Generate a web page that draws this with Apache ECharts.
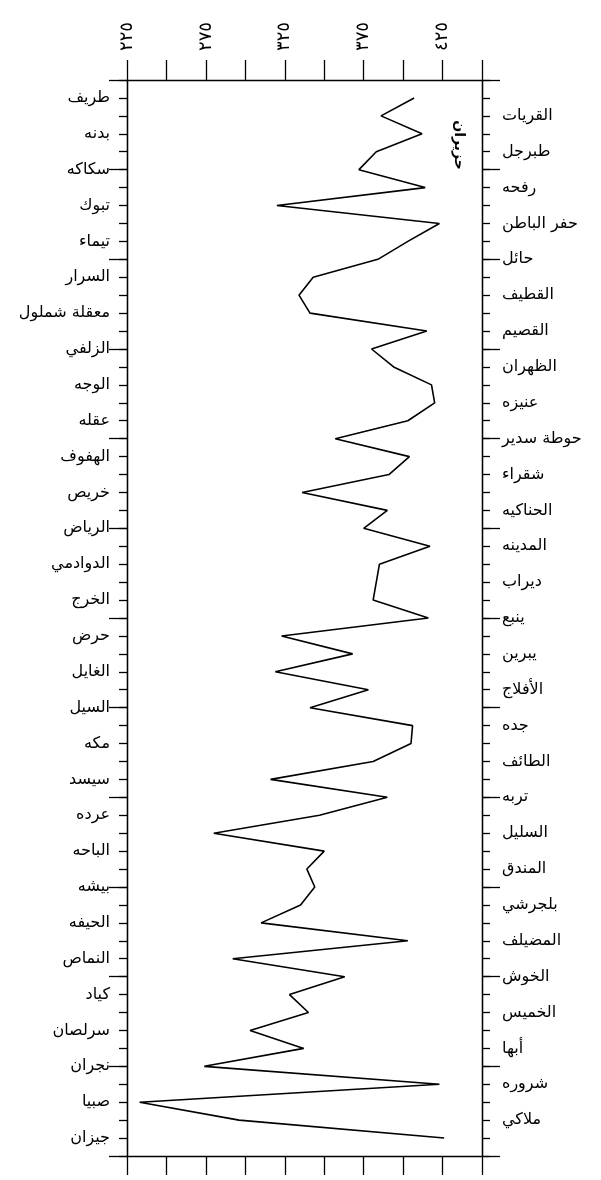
<!DOCTYPE html>
<html><head><meta charset="utf-8">
<script src="https://cdn.jsdelivr.net/npm/echarts@6/dist/echarts.min.js"></script>
<style>html,body{margin:0;padding:0;background:#fff}#c{width:601px;height:1180px}</style>
</head><body><div id="c"></div>
<script>
const stations = ['طريف','القريات','بدنه','طبرجل','سكاكه','رفحه','تبوك','حفر الباطن','تيماء','حائل',
 'السرار','القطيف','معقلة شملول','القصيم','الزلفي','الظهران','الوجه','عنيزه','عقله','حوطة سدير',
 'الهفوف','شقراء','خريص','الحناكيه','الرياض','المدينه','الدوادمي','ديراب','الخرج','ينبع',
 'حرض','يبرين','الغايل','الأفلاج','السيل','جده','مكه','الطائف','سيسد','تربه',
 'عرده','السليل','الباحه','المندق','بيشه','بلجرشي','الحيفه','المضيلف','النماص','الخوش',
 'كياد','الخميس','سرلصان','أبها','نجران','شروره','صبيا','ملاكي','جيزان'];
const values = [407,386,412,383,372,414,320,423,403,384,
 343,334,341,415,380,394,418,420,403,357,
 404,391,336,390,375,417,385,383,381,416,
 323,368,319,378,341,406,405,381,316,390,
 347,280,350,339,344,335,310,403,292,363,
 328,340,303,337,274,423,233,296,426];
const labelledTicks = [225,275,325,375,425];
const monthLabel = 'حزيران';

const arDigits = s => String(s).replace(/[0-9]/g, d => '٠١٢٣٤٥٦٧٨٩'[d]);
const FONT = 'DejaVu Sans';
const black = '#000';
const chart = echarts.init(document.getElementById('c'));
const n = stations.length;
function yAx(pos, interval, tickLen, labelFn, margin) {
  return {
    type: 'value', position: pos, inverse: true, min: -1, max: n, interval: interval,
    axisLine: {show: true, onZero: false, lineStyle: {color: black, width: 1.3}},
    axisTick: {show: true, length: tickLen, lineStyle: {color: black, width: 1.3}},
    axisLabel: labelFn ? {show: true, margin: margin, color: black, fontFamily: FONT, fontSize: 16,
      formatter: v => labelFn(v)} : {show: false},
    splitLine: {show: false}
  };
}
chart.setOption({
  animation: false,
  backgroundColor: '#fff',
  grid: {left: 127, right: 119, top: 80, bottom: 24, containLabel: false},
  xAxis: [
    {type: 'value', position: 'top', min: 225, max: 450, interval: 25,
     axisLine: {show: true, onZero: false, lineStyle: {color: black, width: 1.3}},
     axisTick: {show: true, length: 20, lineStyle: {color: black, width: 1.3}},
     axisLabel: {show: true, rotate: -90, margin: 29, color: black, fontFamily: FONT, fontSize: 18,
       formatter: v => labelledTicks.includes(v) ? arDigits(v) : ''},
     splitLine: {show: false}},
    {type: 'value', position: 'bottom', min: 225, max: 450, interval: 25,
     axisLine: {show: true, onZero: false, lineStyle: {color: black, width: 1.3}},
     axisTick: {show: true, length: 19, lineStyle: {color: black, width: 1.3}},
     axisLabel: {show: false}, splitLine: {show: false}}
  ],
  yAxis: [
    yAx('left', 5, 18, null),
    yAx('left', 1, 8, v => (v >= 0 && v < n && v % 2 === 0) ? stations[v] : '', 17),
    yAx('right', 5, 18, null),
    yAx('right', 1, 8, v => (v >= 0 && v < n && v % 2 === 1) ? stations[v] : '', 20)
  ],
  series: [{
    type: 'line', xAxisIndex: 0, yAxisIndex: 0, symbol: 'none', silent: true,
    lineStyle: {color: black, width: 1.6},
    data: values.map((v, i) => [v, i])
  }],
  graphic: [{
    type: 'text', x: 459, y: 145, rotation: -Math.PI / 2,
    style: {text: monthLabel, fill: black, font: 'bold 14px "DejaVu Sans"', textAlign: 'center', textVerticalAlign: 'middle'}
  }]
});
</script></body></html>
